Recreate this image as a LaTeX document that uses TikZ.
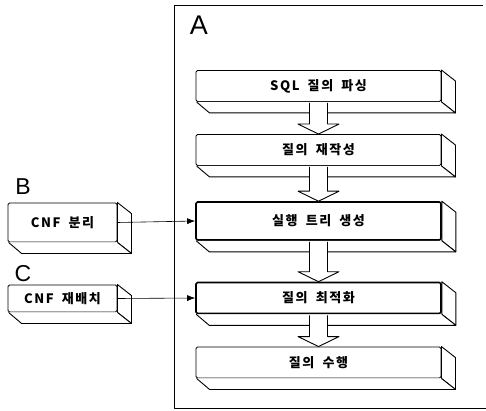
\documentclass[tikz,border=0pt]{standalone}
\usepackage{fontspec}
\usepackage{tikz}
\usetikzlibrary{arrows.meta,calc}
\newfontfamily\krfont[LetterSpace=12,WordSpace=1.8]{Noto Sans CJK KR}
\newfontfamily\labfont{Liberation Sans}

\begin{document}
\begin{tikzpicture}[
            x=1pt, y=-1pt,
            line join=round,
            box/.style={
                    draw=black,
                    line width=0.9pt,
                    rounded corners=1.5pt,
                    fill=white,
                    inner sep=0pt,
                    minimum width=245pt,
                    minimum height=31pt,
                    font=\krfont\bfseries\fontsize{13}{15}\selectfont
                },
            keybox/.style={box, line width=1.6pt, minimum height=38pt},
            sidebox/.style={box, minimum width=109pt},
            face/.style={draw=black, line width=0.9pt, fill=white},
            blockarrow/.style={draw=black, line width=0.9pt, fill=white},
            feed/.style={-{Latex[length=8pt,width=6pt]}, line width=0.6pt},
            tag/.style={inner sep=0pt, font=\labfont\fontsize{27}{30}\selectfont}
        ]
        \useasboundingbox (0,0) rectangle (486,411);

        % Frame A
        \draw[line width=0.9pt] (483,5) -- (174,5) -- (174,408) -- (486,408);
        \node[tag] (lblA) at (199,25) {A};

        % Boxes
        \node[box] (parse) at (318.5,86) {SQL 질의 파싱};
        \node[box] (rewrite) at (318.5,150) {질의 재작성};
        \node[keybox] (tree) at (318.5,221) {실행 트리 생성};
        \node[keybox, minimum height=31pt] (opt) at (318.5,298) {질의 최적화};
        \node[box] (exec) at (318.5,362.5) {질의 수행};

        \node[sidebox, minimum height=39pt] (split) at (62.5,222.5) {CNF 분리};
        \node[sidebox, minimum height=27pt] (reorder) at (62.5,298.5) {CNF 재배치};
        \node[tag, font=\labfont\fontsize{23}{26}\selectfont] (lblB) at (23,187) {B};
        \node[tag, font=\labfont\fontsize{23}{26}\selectfont] (lblC) at (23,274) {C};

        % Depth faces
        \foreach \n in {parse,rewrite,tree,opt,exec,split,reorder} {
            \draw[face] (\n.north east) -- ++(14,11) -- ($(\n.south east)+(14,11)$) -- (\n.south east) -- cycle;
            \draw[face] ([xshift=1pt]\n.south west) -- ($(\n.south west)+(14,11)$) -- ($(\n.south east)+(14,11)$) -- (\n.south east);
        }

        % Block arrows
        \foreach \a/\b in {parse/rewrite,rewrite/tree,tree/opt,opt/exec} {
            \draw[blockarrow] ($(\a.south)+(-9,1)$) -- ($(\b.north)+(-9,-10)$) -- ($(\b.north)+(-20.5,-10)$)
            -- (\b.north) -- ($(\b.north)+(20.5,-10)$) -- ($(\b.north)+(9,-10)$) -- ($(\a.south)+(9,1)$);
        }

        % Feeds
        \draw[feed] (split.east) -- (tree.west);
        \draw[feed] (reorder.east) -- (opt.west);

    \end{tikzpicture}
\end{document}
